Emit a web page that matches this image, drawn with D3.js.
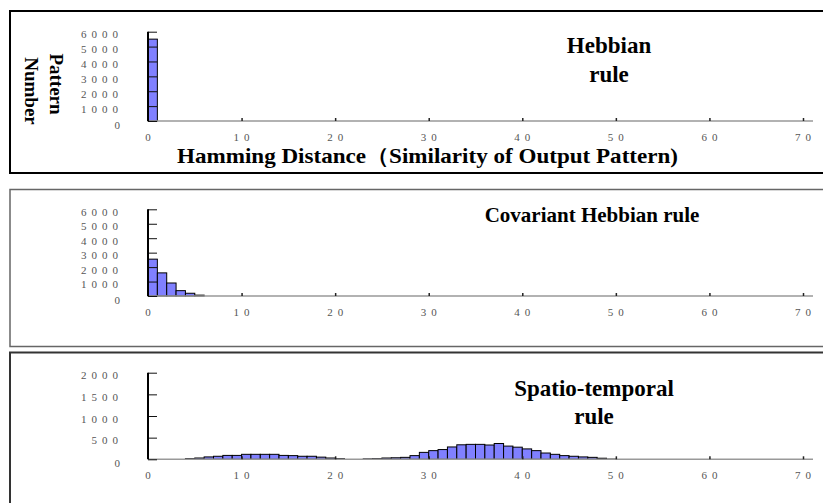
<!DOCTYPE html>
<meta charset="utf-8">
<script src="https://d3js.org/d3.v7.min.js"></script>
<style>
    body { margin: 0; background: #fff; }
    svg { display: block; }
    .tick-label { font-family: "Liberation Serif", serif; font-size: 11px; fill: #555; letter-spacing: 5px; }
    .title { font-family: "Liberation Serif", serif; font-weight: bold; fill: #000; }
</style>
<div id="chart"></div>
<script>
    // values (Hamming distance -> number of patterns)
    var xTicks = [0, 10, 20, 30, 40, 50, 60, 70];

    var hebbDist = [0];
    var hebbCount = [5500];

    var covDist = [0, 1, 2, 3, 4, 5];
    var covCount = [2550, 1600, 900, 370, 190, 60];

    var stDist = [4, 5, 6, 7, 8, 9, 10, 11, 12, 13, 14, 15, 16, 17, 18, 19, 20, 21, 22, 23, 24, 25, 26,
        27, 28, 29, 30, 31, 32, 33, 34, 35, 36, 37, 38, 39, 40, 41, 42, 43, 44, 45, 46, 47, 48, 49];
    var stCount = [15, 30, 55, 70, 90, 90, 115, 115, 115, 115, 90, 85, 70, 70, 50, 30, 15, 0, 0, 10, 15, 30, 35,
        45, 85, 160, 200, 225, 285, 335, 345, 345, 330, 365, 305, 280, 240, 200, 145, 115, 85, 70, 55, 45, 25, 5];

    var yTicksBig = [0, 1000, 2000, 3000, 4000, 5000, 6000];
    var yTicksSmall = [0, 500, 1000, 1500, 2000];

    var width = 823, height = 503;
    var svg = d3.select('#chart').append('svg')
        .attr('width', width)
        .attr('height', height);

    var panels = [
        { top: 11, bottom: 173, y0: 121, y1: 31.7, ticks: yTicksBig, dist: hebbDist, count: hebbCount, border: '#000' },
        { top: 189.5, bottom: 346.5, y0: 296, y1: 209.3, ticks: yTicksBig, dist: covDist, count: covCount, border: '#666' },
        { top: 352.5, bottom: 520, y0: 459.3, y1: 372.7, ticks: yTicksSmall, dist: stDist, count: stCount, border: '#333' }
    ];

    var x = d3.scaleLinear().domain([0, 70]).range([148, 803]);

    panels.forEach(function (p, k) {
        var g = svg.append('g');

        g.append('rect')
            .attr('x', 10).attr('y', p.top)
            .attr('width', 830).attr('height', p.bottom - p.top)
            .attr('fill', '#fff')
            .attr('stroke', p.border)
            .attr('stroke-width', k == 1 ? 1.5 : 2);

        var y = d3.scaleLinear()
            .domain([0, d3.max(p.ticks)])
            .range([p.y0, p.y1]);

        // bars
        g.append('g').selectAll('rect')
            .data(p.dist.map((d, i) => ({ d: d, v: p.count[i] })).filter(e => e.v > 0))
            .join('rect')
            .attr('x', e => x(e.d))
            .attr('y', e => y(e.v))
            .attr('width', e => x(e.d + 1) - x(e.d))
            .attr('height', e => y(0) - y(e.v))
            .attr('fill', '#8080ff')
            .attr('stroke', '#000')
            .attr('stroke-width', 1);

        // x axis: grey base line with short dark ticks pointing up
        g.append('line')
            .attr('x1', x(0)).attr('x2', x(70) + 10)
            .attr('y1', y(0)).attr('y2', y(0))
            .attr('stroke', '#999').attr('stroke-width', 1.5);

        var xAxis = d3.axisTop(x).tickValues(xTicks.slice(1)).tickSize(3).tickFormat('');
        g.append('g')
            .attr('transform', `translate(0,${y(0)})`)
            .call(xAxis)
            .call(a => a.select('.domain').remove())
            .call(a => a.selectAll('.tick line').attr('stroke', '#222').attr('stroke-width', 1.5));

        g.append('g').selectAll('text')
            .data(xTicks)
            .join('text')
            .attr('class', 'tick-label')
            .attr('x', d => x(d) + 2.5)
            .attr('y', y(0) + 20)
            .attr('text-anchor', 'middle')
            .text(d => d);

        // y axis: black line with inward ticks
        var yAxis = d3.axisRight(y).tickValues(p.ticks).tickSize(9).tickFormat('');
        g.append('g')
            .attr('transform', `translate(${x(0)},0)`)
            .call(yAxis)
            .call(a => a.select('.domain').remove())
            .call(a => a.selectAll('.tick line').attr('stroke', '#111').attr('stroke-width', 1));

        g.append('line')
            .attr('x1', x(0)).attr('x2', x(0))
            .attr('y1', y(0)).attr('y2', y(d3.max(p.ticks)))
            .attr('stroke', '#000').attr('stroke-width', 2);

        g.append('g').selectAll('text')
            .data(p.ticks)
            .join('text')
            .attr('class', 'tick-label')
            .attr('x', d => d == 0 ? 125 : 123)
            .attr('y', d => y(d) + (d == 0 ? 8 : 6.5))
            .attr('text-anchor', 'end')
            .text(d => d);
    });

    // titles
    function title(lines, cx, y0, size, lh) {
        var t = svg.append('text')
            .attr('class', 'title')
            .attr('text-anchor', 'middle')
            .style('font-size', size + 'px');
        lines.forEach((s, i) => {
            t.append('tspan').attr('x', cx).attr('y', y0 + i * lh).text(s);
        });
    }
    title(['Hebbian', 'rule'], 609, 53, 23, 29);
    title(['Covariant Hebbian rule'], 592, 222, 21, 0);
    title(['Spatio-temporal', 'rule'], 594, 396, 23, 28);

    svg.append('text')
        .attr('class', 'title')
        .attr('x', 177).attr('y', 163)
        .attr('textLength', 501)
        .attr('lengthAdjust', 'spacingAndGlyphs')
        .style('font-size', '21px')
        .text('Hamming Distance（Similarity of Output Pattern)');

    // y title, rotated clockwise
    svg.append('text')
        .attr('class', 'title')
        .attr('transform', 'translate(50,84) rotate(90)')
        .attr('text-anchor', 'middle')
        .style('font-size', '19px')
        .text('Pattern');
    svg.append('text')
        .attr('class', 'title')
        .attr('transform', 'translate(25,91) rotate(90)')
        .attr('text-anchor', 'middle')
        .style('font-size', '19px')
        .text('Number');
</script>
